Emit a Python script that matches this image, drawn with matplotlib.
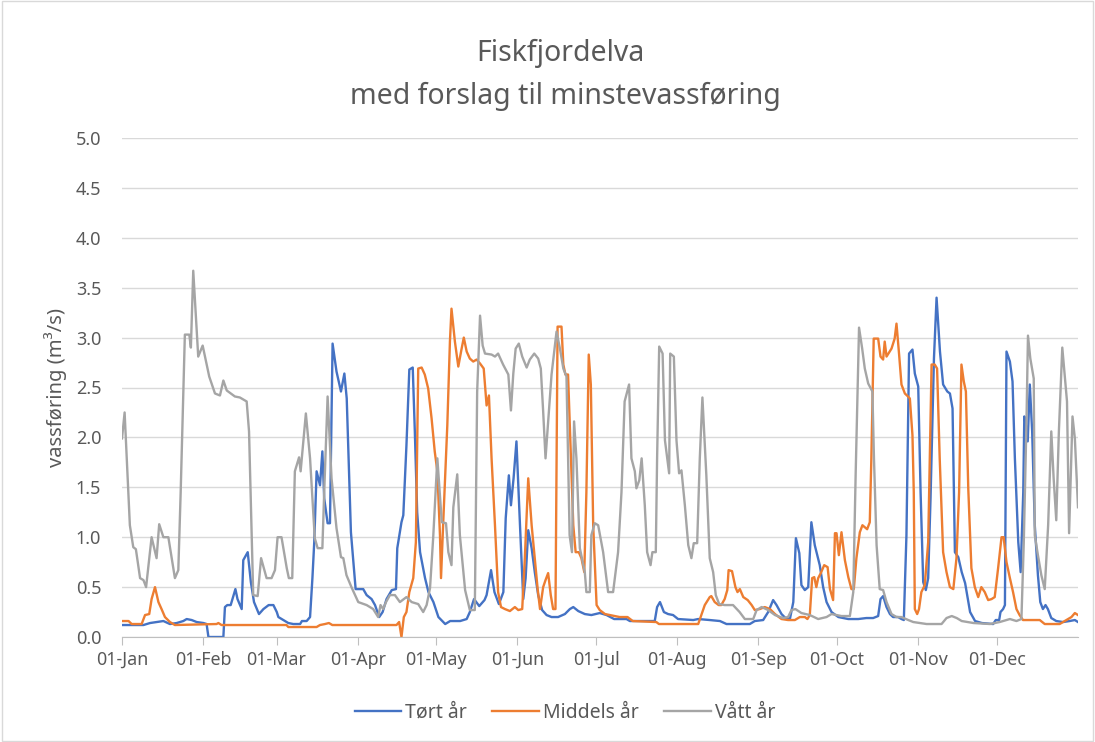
import matplotlib
matplotlib.use("Agg")
import matplotlib.pyplot as plt
from matplotlib.patches import Rectangle

# day of year (0 = 01-Jan) and flow in m3/s
dry_days = [0, 8.2, 10.7, 13.2, 15.8, 18.3, 20.9, 23.4, 24.7, 26.6, 28.5, 31.1, 32.3, 33, 38.7, 39.3, 40.2, 41.5,
            43.3, 44.1, 45.7, 46.3, 48, 49.2, 50.4, 52.3, 54, 56, 57.8, 59.1, 59.7, 61.6, 63.5, 65.4, 68, 68.7, 70.5,
            71.8, 72.7, 73.4, 74.3, 75.6, 76.5, 77.2, 78.5, 79.4, 80.4, 81.9, 83.6, 84.9, 85.8, 87.4, 89.2, 90.9,
            92.1, 93.4, 95.3, 96.6, 98.2, 99.5, 101, 103, 104.6, 105.1, 106.7, 107.4, 108.6, 109.7, 111, 111.8,
            112.7, 113.8, 115.7, 117, 118.9, 120.8, 123.4, 125.3, 129.1, 131.6, 132.8, 134.4, 136.4, 138.4, 139.2,
            140.9, 142.2, 143.9, 145.6, 146.5, 147.7, 148.5, 149.5, 150.6, 152, 153.2, 154.1, 155.1, 156.4, 157.6,
            158.9, 160.4, 162.1, 164, 166.5, 169.1, 171, 172.3, 174.2, 176.7, 179.2, 182.4, 185, 187.9, 192.6,
            193.9, 203.4, 204.3, 205.4, 206.9, 208.5, 210.4, 212.3, 218.1, 220, 224.4, 228.3, 230.8, 239.7, 241.6,
            244.8, 246.7, 248.6, 249.9, 251.8, 253.7, 255, 256.3, 257.3, 258.6, 259.4, 260.7, 262, 263.2, 264.5,
            266.4, 267.7, 269, 270.9, 273.5, 277.3, 281.1, 284.2, 286.8, 288.7, 289.6, 290.6, 291.9, 293.2, 294.4,
            296.3, 297.6, 298.5, 299.5, 300.5, 301.8, 302.7, 304, 304.9, 305.9, 306.9, 307.8, 308.7, 310, 311,
            312.3, 313.5, 315.1, 316.1, 317.1, 318, 319.3, 320.6, 321.9, 323.8, 325.7, 328.3, 332.6, 333.6, 334.9,
            335.4, 336.4, 337.1, 337.7, 339, 340, 340.9, 342.2, 343.1, 344.1, 344.5, 345.1, 345.8, 346.6, 347.5,
            348.5, 349.7, 350.6, 351.6, 352.6, 353.5, 354.8, 356.7, 359.3, 361.8, 363.8, 365]
dry_vals = [0.12, 0.12, 0.14, 0.15, 0.16, 0.13, 0.14, 0.16, 0.18, 0.17, 0.15, 0.14, 0.13, 0.0, 0.0, 0.3, 0.32, 0.32,
            0.48, 0.38, 0.28, 0.77, 0.85, 0.55, 0.35, 0.23, 0.28, 0.32, 0.32, 0.25, 0.2, 0.17, 0.14, 0.13, 0.13, 0.16,
            0.16, 0.2, 0.59, 0.95, 1.66, 1.52, 1.86, 1.39, 1.14, 1.14, 2.94, 2.66, 2.46, 2.64, 2.39, 1.05, 0.48, 0.48,
            0.48, 0.42, 0.38, 0.32, 0.2, 0.25, 0.38, 0.47, 0.48, 0.89, 1.15, 1.22, 1.92, 2.68, 2.7, 2.06, 1.25, 0.85,
            0.59, 0.45, 0.35, 0.2, 0.13, 0.16, 0.16, 0.18, 0.25, 0.38, 0.31, 0.37, 0.42, 0.67, 0.45, 0.33, 0.45, 1.19,
            1.62, 1.32, 1.59, 1.96, 1.09, 0.38, 0.59, 1.07, 0.89, 0.65, 0.42, 0.27, 0.22, 0.2, 0.2, 0.23, 0.28, 0.3,
            0.26, 0.23, 0.22, 0.24, 0.22, 0.18, 0.18, 0.16, 0.16, 0.3, 0.35, 0.25, 0.23, 0.22, 0.18, 0.17, 0.18, 0.17,
            0.16, 0.13, 0.13, 0.16, 0.17, 0.25, 0.37, 0.32, 0.23, 0.18, 0.18, 0.35, 0.99, 0.84, 0.52, 0.47, 0.5, 1.15,
            0.92, 0.72, 0.5, 0.35, 0.25, 0.2, 0.18, 0.18, 0.19, 0.19, 0.21, 0.38, 0.41, 0.3, 0.23, 0.2, 0.2, 0.18,
            0.17, 1.02, 2.84, 2.88, 2.64, 2.51, 1.45, 0.55, 0.47, 0.59, 1.39, 2.79, 3.4, 2.86, 2.53, 2.46, 2.44, 2.29,
            0.85, 0.8, 0.65, 0.54, 0.25, 0.16, 0.14, 0.13, 0.17, 0.17, 0.25, 0.28, 0.32, 2.86, 2.76, 2.56, 1.79, 0.95,
            0.65, 1.45, 2.21, 2.12, 1.96, 2.53, 2.06, 1.12, 0.62, 0.35, 0.28, 0.32, 0.28, 0.19, 0.16, 0.15, 0.16, 0.17,
            0.15]

mid_days = [0, 2.5, 3.7, 7.5, 8.8, 10.4, 11.3, 12.6, 13.9, 15.1, 16.4, 18.3, 20.2, 36.1, 36.8, 38, 62.8, 63.5,
            74.3, 75.6, 77.5, 79, 80.3, 104.8, 105.8, 106.7, 107.6, 108.6, 109.7, 111.2, 112.2, 113.1, 114.4, 115.6,
            116.9, 118.2, 119.4, 120.4, 121.4, 121.8, 122.6, 124.2, 125.2, 125.8, 127.1, 128.4, 129.6, 130.5, 131.6,
            132.8, 134.1, 135.4, 136.7, 138.1, 139.2, 140.1, 141.1, 142.4, 143.6, 144.7, 146.2, 148.1, 150, 151.3,
            152.8, 153.8, 155.1, 156.4, 157.6, 158.7, 159.6, 160.8, 161.7, 162.7, 163.7, 164.6, 165.5, 166.3, 167.8,
            168.5, 169.3, 170.3, 171.4, 172.3, 173.2, 174.4, 175.4, 176.5, 177.3, 178.2, 179, 179.9, 181.2, 182.4,
            184.4, 186.3, 190, 193, 195, 204, 205, 220, 222.5, 224.4, 225, 226.3, 227.8, 228.8, 230.1, 231.1, 231.6,
            232.9, 234.2, 235, 235.9, 237.2, 238.9, 240.4, 241.6, 243.5, 245.4, 247.4, 249.3, 251.8, 254.3, 256.9,
            258.8, 260.7, 261.7, 262.6, 263.5, 264.3, 265.1, 265.8, 266.8, 268.1, 269.4, 270.3, 271.5, 272.2, 272.8,
            273.7, 274.7, 276, 277.3, 278.5, 279.4, 280.4, 281.7, 282.7, 283.6, 284.5, 285.5, 286.1, 287, 288.7,
            289.6, 290.6, 291.2, 291.9, 293.8, 295, 295.7, 296.7, 297.6, 298.9, 300.1, 300.8, 301.8, 302.3, 302.7,
            303.6, 304.3, 305.2, 306.5, 307.8, 309.1, 310.3, 311.2, 312.2, 313.5, 314.8, 316.1, 317.4, 318.6, 319.6,
            320.5, 321.4, 322.2, 323.1, 324.3, 325.6, 326.9, 328.1, 329.4, 330.7, 332, 333.2, 334.5, 335.8, 336.6,
            337.7, 339, 340.2, 341.5, 342.7, 344, 350.4, 352.3, 358, 360.6, 362.5, 363.8, 365]
mid_vals = [0.16, 0.16, 0.13, 0.13, 0.22, 0.23, 0.38, 0.5, 0.35, 0.28, 0.2, 0.15, 0.12, 0.13, 0.14, 0.12, 0.12, 0.1,
            0.1, 0.12, 0.13, 0.14, 0.12, 0.12, 0.15, 0.0, 0.2, 0.25, 0.45, 0.59, 0.95, 2.69, 2.7, 2.63, 2.49, 2.19,
            1.86, 1.66, 1.02, 0.59, 1.12, 2.12, 2.96, 3.29, 2.96, 2.71, 2.88, 3.0, 2.86, 2.79, 2.76, 2.78, 2.74, 2.69,
            2.32, 2.42, 1.79, 1.12, 0.45, 0.3, 0.28, 0.26, 0.3, 0.27, 0.28, 0.79, 1.59, 1.12, 0.79, 0.48, 0.28, 0.5,
            0.57, 0.64, 0.42, 0.28, 0.28, 3.11, 3.11, 2.73, 2.63, 2.63, 1.79, 1.12, 0.85, 0.85, 0.79, 0.65, 1.45, 2.83,
            2.53, 1.12, 0.32, 0.27, 0.23, 0.22, 0.2, 0.2, 0.16, 0.15, 0.13, 0.13, 0.32, 0.4, 0.41, 0.35, 0.32, 0.32,
            0.38, 0.47, 0.67, 0.66, 0.5, 0.45, 0.48, 0.4, 0.37, 0.32, 0.27, 0.28, 0.3, 0.28, 0.23, 0.18, 0.17, 0.17,
            0.2, 0.2, 0.18, 0.22, 0.59, 0.6, 0.5, 0.59, 0.64, 0.72, 0.7, 0.48, 0.37, 1.04, 1.04, 0.82, 1.05, 0.77, 0.6,
            0.48, 0.48, 0.79, 1.05, 1.12, 1.1, 1.08, 1.15, 1.79, 2.99, 2.99, 2.81, 2.78, 2.96, 2.81, 2.89, 2.99, 3.14,
            2.83, 2.53, 2.44, 2.41, 2.39, 2.02, 1.45, 0.28, 0.23, 0.28, 0.45, 0.52, 0.95, 2.73, 2.73, 2.69, 1.79, 0.85,
            0.65, 0.5, 0.48, 0.79, 1.45, 2.73, 2.56, 2.46, 1.49, 0.69, 0.5, 0.4, 0.5, 0.45, 0.37, 0.38, 0.4, 0.69, 1.0,
            1.0, 0.75, 0.59, 0.45, 0.28, 0.22, 0.17, 0.17, 0.13, 0.13, 0.17, 0.2, 0.24, 0.22]

wet_days = [0, 1, 3, 4.3, 5.3, 6.9, 8.2, 9.2, 11.3, 13.2, 14.2, 15.8, 17.7, 20.2, 21.5, 22.4, 24, 25.7, 26.3, 27.2,
            29.1, 30.8, 33.3, 35.5, 37.4, 38.7, 40, 43.1, 45, 47.6, 48.5, 50.1, 51.8, 53.1, 55.2, 57.1, 58.4, 59.4,
            60.9, 62.9, 63.7, 65, 66, 67.6, 68.2, 70.2, 71.8, 73.6, 74.7, 76.5, 77.2, 78.5, 80, 81.9, 83.6, 84.5,
            85.7, 87.6, 90.2, 93.4, 95.9, 97.8, 98.7, 99.7, 100.8, 102.3, 104.2, 106.1, 108.6, 110.6, 113.1, 115,
            116.3, 117.6, 118.8, 120.4, 122.1, 123.7, 124.6, 125.8, 126.5, 128, 129, 131, 132.8, 134.7, 135.6, 136.7,
            137.7, 138.6, 141.1, 142.4, 143.6, 145.5, 147.5, 148.5, 149.4, 150.3, 151.5, 152.8, 154.5, 155.7, 157.4,
            158.9, 159.9, 160.8, 161.7, 163, 164, 165.3, 165.9, 167.2, 168.5, 169.7, 170.9, 171.8, 172.6, 173.5,
            174.8, 176.7, 177.3, 178.6, 179.2, 180.5, 181.8, 183.7, 185.6, 187.5, 189.4, 190.7, 191.9, 193.6, 194.5,
            195.8, 196.4, 197.5, 198.4, 199.6, 200.5, 201.8, 202.5, 203.8, 204.3, 205.1, 206.4, 207.3, 208.9, 209.3,
            210.7, 211.7, 212.7, 213.6, 214.9, 216.2, 217.4, 218.3, 219.6, 220.6, 221.6, 223.1, 224.4, 225.7, 226.7,
            228, 230.1, 233.3, 235.8, 237.8, 241, 242.3, 244.2, 246.7, 249.3, 252.4, 254.3, 255.6, 257.1, 259.4,
            262.6, 265.8, 269, 270.9, 274.7, 277.9, 279.2, 280.1, 281.4, 282.6, 283.6, 284.9, 286.5, 287.1, 288.1,
            289.3, 290.6, 291.9, 293.8, 295.7, 297.6, 300.2, 302.1, 307.2, 312.9, 314.8, 316.8, 318.7, 320.6, 325.1,
            331.4, 335.1, 339, 341.5, 343.4, 344.3, 345.3, 345.9, 346.8, 348.1, 348.5, 349.7, 351, 352.3, 353.6,
            354.8, 355.7, 356.7, 357.7, 359, 359.9, 360.8, 361.6, 362.9, 363.8, 365]
wet_vals = [1.99, 2.25, 1.12, 0.9, 0.88, 0.59, 0.57, 0.5, 1.0, 0.79, 1.13, 1.0, 1.0, 0.59, 0.67, 1.45, 3.03, 3.03,
            2.9, 3.67, 2.81, 2.92, 2.61, 2.44, 2.42, 2.57, 2.47, 2.41, 2.4, 2.36, 2.06, 0.42, 0.41, 0.79, 0.59, 0.59,
            0.67, 1.0, 1.0, 0.69, 0.59, 0.59, 1.66, 1.8, 1.66, 2.24, 1.79, 0.99, 0.89, 0.89, 1.45, 2.41, 1.59, 1.09,
            0.8, 0.79, 0.62, 0.5, 0.35, 0.32, 0.28, 0.2, 0.32, 0.28, 0.35, 0.42, 0.42, 0.35, 0.4, 0.35, 0.33, 0.25,
            0.32, 0.49, 0.99, 1.79, 1.15, 1.14, 0.85, 0.72, 1.3, 1.63, 1.02, 0.47, 0.27, 0.27, 2.46, 3.22, 2.92, 2.84,
            2.83, 2.81, 2.84, 2.73, 2.63, 2.27, 2.64, 2.89, 2.94, 2.81, 2.7, 2.78, 2.84, 2.79, 2.69, 2.26, 1.79, 2.26,
            2.63, 2.93, 3.06, 2.89, 2.69, 2.61, 1.02, 0.85, 2.16, 1.79, 0.89, 0.65, 0.45, 0.45, 1.02, 1.14, 1.12, 0.85,
            0.45, 0.45, 0.85, 1.45, 2.36, 2.53, 1.79, 1.66, 1.49, 1.57, 1.79, 1.32, 0.85, 0.72, 0.85, 0.85, 1.79, 2.91,
            2.84, 1.97, 1.64, 2.84, 2.81, 1.97, 1.64, 1.67, 1.32, 0.92, 0.79, 0.94, 0.94, 1.79, 2.4, 1.62, 0.79, 0.65,
            0.42, 0.33, 0.32, 0.32, 0.25, 0.18, 0.18, 0.27, 0.3, 0.27, 0.22, 0.19, 0.2, 0.27, 0.28, 0.24, 0.22, 0.18,
            0.2, 0.23, 0.21, 0.21, 0.45, 1.62, 3.1, 2.89, 2.69, 2.54, 2.46, 1.79, 0.92, 0.48, 0.47, 0.35, 0.23, 0.2,
            0.2, 0.17, 0.15, 0.13, 0.13, 0.19, 0.21, 0.19, 0.16, 0.14, 0.13, 0.15, 0.18, 0.16, 0.18, 0.95, 2.12, 3.02,
            2.79, 2.59, 1.02, 0.82, 0.62, 0.48, 1.12, 2.06, 1.59, 1.17, 2.06, 2.9, 2.63, 2.36, 1.04, 2.21, 1.99, 1.3]

month_starts = [0, 31, 59, 90, 120, 151, 181, 212, 243, 273, 304, 334]
month_labels = ["01-Jan", "01-Feb", "01-Mar", "01-Apr", "01-May", "01-Jun",
                "01-Jul", "01-Aug", "01-Sep", "01-Oct", "01-Nov", "01-Dec"]
series_names = ["Tørt år", "Middels år", "Vått år"]

plt.rcParams['font.family'] = ['Noto Sans', 'DejaVu Sans']
txt = "#595959"
W, H = 1095, 742

fig = plt.figure(figsize=(W / 100, H / 100), dpi=100)
fig.patches.append(Rectangle((0.002, 0.002), 0.996, 0.996, transform=fig.transFigure,
                             fill=False, edgecolor="#d9d9d9", linewidth=1))

ax = fig.add_axes([122 / W, (H - 637) / H, (1078 - 122) / W, (637 - 138) / H])

ax.plot(dry_days, dry_vals, color="#4472C4", lw=1.7, label=series_names[0])
ax.plot(mid_days, mid_vals, color="#ED7D31", lw=1.7, label=series_names[1])
ax.plot(wet_days, wet_vals, color="#A5A5A5", lw=1.7, label=series_names[2])

ax.set_xlim(0, 365)
ax.set_ylim(0, 5)
ax.set_yticks([i * 0.5 for i in range(11)])
ax.set_yticklabels([f"{i * 0.5:.1f}" for i in range(11)])
ax.set_xticks(month_starts)
ax.set_xticklabels(month_labels)
ax.grid(axis="y", color="#d9d9d9", lw=1)
ax.set_axisbelow(True)
for s in ["left", "right", "top"]:
    ax.spines[s].set_visible(False)
ax.spines["bottom"].set_color("#bfbfbf")
ax.tick_params(axis="y", length=0, labelsize=13, labelcolor=txt, pad=15)
ax.tick_params(axis="x", direction="out", length=6, color="#bfbfbf", labelsize=12.8, labelcolor=txt, pad=4)

ax.set_ylabel("vassføring (m³/s)", fontsize=14.5, color=txt, labelpad=6)
fig.text(0.512, 1 - 53 / H, "Fiskfjordelva", ha="center", va="center", fontsize=20.5, color=txt)
fig.text(0.516, 1 - 96 / H, "med forslag til minstevassføring", ha="center", va="center", fontsize=20.5, color=txt)

fig.legend(loc="center", bbox_to_anchor=(0.516, 1 - 713 / H), ncol=3, frameon=False,
           fontsize=14, labelcolor=txt, handlelength=2.4, handletextpad=0.2, columnspacing=1.3)

fig.savefig("out.png", dpi=100)
